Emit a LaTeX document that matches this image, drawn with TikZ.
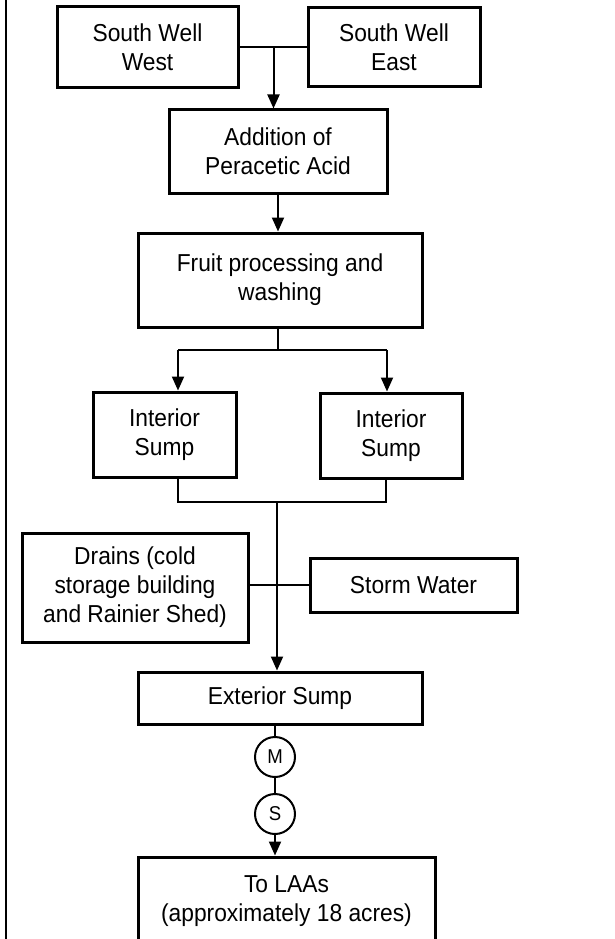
\documentclass[tikz,border=0pt]{standalone}
\usepackage{fontspec}
\setmainfont{Liberation Sans}[FakeStretch=0.93]
\usepackage{tikz}
\usetikzlibrary{arrows.meta}

\begin{document}
\begin{tikzpicture}[x=1pt, y=-1pt,
    box/.style={draw, line width=3pt, align=center, inner sep=0pt,
      font=\fontsize{24.5}{29}\selectfont},
    gauge/.style={draw, line width=2pt, circle, minimum size=40pt, inner sep=0pt,
      font=\fontsize{20}{22}\selectfont},
    pipe/.style={line width=2pt},
    flow/.style={line width=2pt, -{Triangle[length=14pt, width=12pt]}}]
    \useasboundingbox (0,0) rectangle (614,939);
    \clip (0,0) rectangle (614,939);
    \draw[line width=1.5pt] (6,0) -- (6,939);

    % wells
    \node[box, minimum width=181pt, minimum height=81pt] (west) at (147.5,47.5) {South Well\\West};
    \node[box, minimum width=172pt, minimum height=79pt] (east) at (394,47.5) {South Well\\East};
    \node[box, minimum width=218pt, minimum height=83pt] (acid) at (278,151.5) {Addition of\\Peracetic Acid};
    \node[box, minimum width=284pt, minimum height=94pt] (fruit) at (280,280) {Fruit processing and\\washing};
    \node[box, minimum width=143pt, minimum height=85pt] (intL) at (164.5,434.5) {Interior\\Sump};
    \node[box, minimum width=142pt, minimum height=85pt] (intR) at (391,435.5) {Interior\\Sump};
    \node[box, minimum width=226pt, minimum height=109pt] (drains) at (135,587.5) {Drains (cold\\storage building\\and Rainier Shed)};
    \node[box, minimum width=207pt, minimum height=54pt] (storm) at (413.5,585) {Storm Water};
    \node[box, minimum width=284pt, minimum height=52pt] (ext) at (280,698) {Exterior Sump};
    \node[gauge] (M) at (275,757) {M};
    \node[gauge] (S) at (275,814) {S};
    \node[box, minimum width=297pt, minimum height=88pt] (laa) at (286.5,901) {To LAAs\\(approximately 18 acres)};

    \coordinate (wells) at (273.5,47.5);
    \coordinate (splitL) at (178,350);
    \coordinate (splitR) at (387,350);
    \coordinate (joinL) at (178,502);
    \coordinate (joinR) at (386,502);
    \coordinate (joinC) at (277,502);

    \draw[pipe] (west.east) -- (east.west);
    \draw[flow] (wells) -- (wells |- acid.north);
    \draw[flow] (acid.south) -- (acid.south |- fruit.north);
    \draw[pipe] (fruit.south -| acid.south) -- (splitL -| acid.south);
    \draw[pipe] (splitL) -- (splitR);
    \draw[flow] (splitL) -- (splitL |- intL.north);
    \draw[flow] (splitR) -- (splitR |- intR.north);
    \draw[pipe] (joinL |- intL.south) -- (joinL) -- (joinR) -- (joinR |- intR.south);
    \draw[pipe] (storm.west -| drains.east) -- (storm.west);
    \draw[flow] (joinC) -- (joinC |- ext.north);
    \draw[pipe] (M.north |- ext.south) -- (M.north);
    \draw[pipe] (M) -- (S);
    \draw[flow] (S.south) -- (S.south |- laa.north);
\end{tikzpicture}
\end{document}
